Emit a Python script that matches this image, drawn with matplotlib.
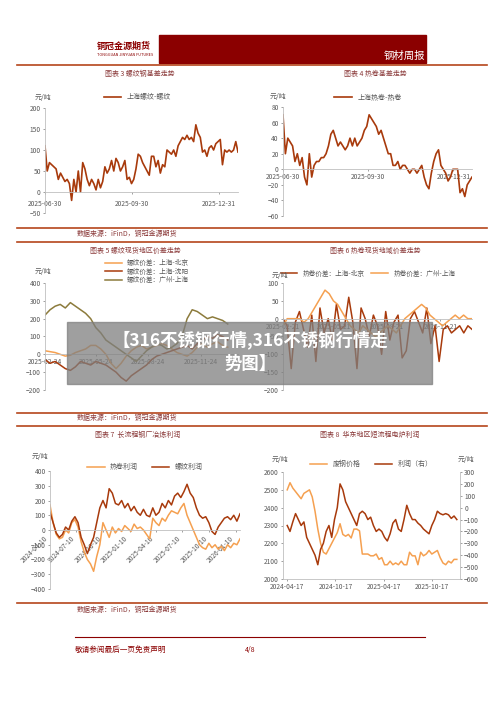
import matplotlib
matplotlib.use("Agg")
import matplotlib.pyplot as plt
import pandas as pd
import numpy as np

plt.rcParams['font.family'] = ['Noto Sans CJK SC', 'DejaVu Sans']

DARK = "#A83A0C"
LIGHT = "#F5A050"
OLIVE = "#8C7B3C"
RED = "#8B0000"
TXT = "#8B3A3A"
GRAY = "#595959"

rebar_basis = [110,50,70,65,60,55,30,45,35,25,30,20,-20,30,0,50,0,70,55,30,15,30,20,5,30,10,25,60,45,55,75,50,80,70,50,60,75,30,35,20,30,55,90,85,70,60,50,40,85,85,60,75,45,65,60,100,95,90,100,85,110,120,130,125,135,125,130,120,160,140,130,95,100,85,105,110,100,115,120,125,65,100,95,100,95,100,120,95]
hrc_basis = [70,20,40,35,30,10,20,5,15,-10,-20,20,-10,5,10,10,15,15,20,30,45,50,40,30,35,30,25,30,40,30,40,30,35,40,50,55,70,65,60,55,45,50,40,30,20,20,5,5,10,0,5,5,0,-5,0,0,-5,0,5,-10,-20,-25,-5,10,20,25,5,0,-5,-15,-10,0,0,0,-30,-25,-35,-20,-15,-10]
rb_sh_bj = [20,15,10,0,-10,-5,10,20,30,50,50,30,0,-50,-80,-50,-10,20,40,50,30,40,50,60,50,30,10,0,-10,10,40,60,40,60,70,50,40]
rb_sh_sy = [-30,-50,-40,-60,-80,-90,-70,-40,-50,-60,-40,-50,-60,-80,-100,-130,-150,-120,-100,-80,-60,-30,-10,0,10,20,30,40,50,30,60,80,100,90,110,100,80]
rb_gz_sh = [220,250,270,280,260,290,270,250,230,200,150,120,80,60,40,20,0,-20,-40,-10,20,40,60,50,30,40,60,100,200,250,240,220,200,210,200,190,170]
hc_sh_bj = [0,-20,-140,-10,20,-30,-80,10,-120,30,-40,0,-60,40,-30,-20,60,-10,-140,30,0,-50,10,-20,-100,20,-60,-10,10,-110,-90,0,20,-10,-40,30,-70,-20,-120,-30,-20,-40,-30,-20,-40,-20,-30]
hc_gz_sh = [-20,0,0,0,0,-10,0,20,40,60,80,70,50,40,20,0,-20,-30,-40,-20,-30,-40,-50,-40,-30,-20,-30,-40,-20,0,10,20,30,40,30,10,0,-10,-20,-10,0,10,0,10,0,0]
rebar_profit = [120,50,-20,-50,-30,20,0,60,90,50,-50,-100,-160,-100,-50,50,150,200,150,280,250,180,170,200,150,180,130,160,120,100,140,100,90,150,100,120,180,150,200,170,230,250,220,260,310,250,220,150,100,80,90,50,-10,-30,20,50,80,90,70,100,60,110]
hrc_profit = [170,50,-30,-60,-50,0,-20,50,70,20,-80,-150,-200,-230,-280,-180,-100,50,0,-50,20,-20,10,-10,30,10,-10,40,10,20,0,-30,-60,80,50,30,80,60,100,130,120,110,150,180,100,50,0,-50,-100,-120,-130,-90,-120,-100,-130,-110,-140,-100,-120,-90,-100,-60]
scrap = [2500,2540,2510,2490,2470,2450,2480,2490,2500,2460,2380,2280,2200,2150,2140,2170,2200,2230,2260,2310,2250,2240,2250,2230,2280,2280,2270,2140,2140,2140,2130,2130,2140,2110,2120,2080,2080,2100,2080,2090,2080,2100,2080,2080,2150,2130,2130,2080,2150,2130,2140,2160,2140,2150,2160,2120,2090,2080,2100,2090,2110,2110]
eaf_profit = [-150,-200,-120,-50,-100,-150,-120,-250,-300,-350,-400,-480,-350,-300,-200,-150,-250,-100,0,200,150,50,0,-50,-100,-150,-50,-30,-50,-100,-80,-150,-200,-180,-200,-250,-280,-220,-130,-100,-180,-200,-100,20,-50,-100,-100,-130,-150,-180,-200,-220,-150,-100,-30,-50,-60,-50,-60,-90,-70,-100]

W, H = 500, 707
fig = plt.figure(figsize=(5, 7.07), dpi=100)

def ax_px(x0, y0, x1, y1):
    return fig.add_axes([x0 / W, 1 - y1 / H, (x1 - x0) / W, (y1 - y0) / H])

def txt(x, y, s, **kw):
    kw.setdefault('fontsize', 5)
    kw.setdefault('color', TXT)
    fig.text(x / W, 1 - y / H, s, **kw)

def hline(y, x0=17, x1=487, lw=1.2, c="#B5451B"):
    fig.add_artist(plt.Line2D([x0 / W, x1 / W], [1 - y / H, 1 - y / H], lw=lw, color=c))

fig.add_artist(plt.Rectangle((159 / W, 1 - 63 / H), (426 - 159) / W, 28 / H, color=RED))
txt(97, 46, "铜冠金源期货", fontsize=6.5, color=RED, weight='bold', va='center')
txt(97, 55, "TONGGUAN JINYUAN FUTURES", fontsize=2.8, color=RED, va='center')
txt(425, 56, "钢材周报", fontsize=7.5, color='white', ha='right', va='center')
hline(65)

def style(ax, ylim, yt, zero=True):
    ax.set_ylim(*ylim)
    ax.set_yticks(yt)
    for s in ['top', 'right']:
        ax.spines[s].set_visible(False)
    ax.spines['left'].set_color('#BFBFBF')
    ax.spines['bottom'].set_color('#BFBFBF')
    ax.spines['left'].set_linewidth(0.6)
    ax.spines['bottom'].set_linewidth(0.6)
    if zero:
        ax.spines['bottom'].set_position(('data', 0))
    ax.tick_params(labelsize=4.8, colors=GRAY, length=1.5, width=0.4, pad=1.5)
    ax.patch.set_alpha(0)

def dates(a, b, vals):
    return pd.date_range(a, b, periods=len(vals))

def setx(ax, ticks, rot=0):
    ax.set_xticks(pd.to_datetime(ticks))
    ax.set_xticklabels(ticks, rotation=rot, ha='right' if rot else 'center')

# chart 3
txt(140, 74, "图表 3 螺纹钢基差走势", ha='center', va='center')
ax = ax_px(45, 108, 238, 213)
d = dates("2025-06-30", "2026-01-20", rebar_basis)
ax.plot(d, rebar_basis, color=DARK, lw=1.2, label="上海螺纹-螺纹")
style(ax, (-50, 200), [-50, 0, 50, 100, 150, 200])
ax.set_xlim(d[0], d[-1])
setx(ax, ["2025-06-30", "2025-09-30", "2025-12-31"])
ax.tick_params(axis='x', pad=4)
ax.legend(loc='upper center', bbox_to_anchor=(0.48, 1.2), frameon=False, fontsize=5, labelcolor=GRAY, handlelength=2.5)
txt(35, 100, "元/吨", color=GRAY)

# chart 4
txt(375, 74, "图表 4 热卷基差走势", ha='center', va='center')
ax = ax_px(283, 107, 472, 216)
d = dates("2025-06-30", "2026-01-20", hrc_basis)
ax.plot(d, hrc_basis, color=DARK, lw=1.2, label="上海热卷-热卷")
style(ax, (-60, 80), [-60, -40, -20, 0, 20, 40, 60, 80])
ax.set_xlim(d[0], d[-1])
setx(ax, ["2025-06-30", "2025-09-30", "2025-12-31"])
ax.legend(loc='upper center', bbox_to_anchor=(0.45, 1.18), frameon=False, fontsize=5, labelcolor=GRAY, handlelength=2.5)
txt(270, 99, "元/吨", color=GRAY)

hline(228)
txt(77, 234, "数据来源：iFinD，铜冠金源期货", va='center')
hline(242)

# chart 5
txt(135, 251, "图表 5 螺纹现货地区价差走势", ha='center', va='center')
ax = ax_px(45, 283, 238, 390)
for vals, c, lab in [(rb_sh_bj, LIGHT, "螺纹价差：上海-北京"), (rb_sh_sy, DARK, "螺纹价差：上海-沈阳"), (rb_gz_sh, OLIVE, "螺纹价差：广州-上海")]:
    ax.plot(dates("2025-02-24", "2026-01-10", vals), vals, color=c, lw=1.1, label=lab)
style(ax, (-200, 400), [-200, -100, 0, 100, 200, 300, 400])
ax.set_xlim(pd.Timestamp("2025-02-24"), pd.Timestamp("2026-01-28"))
setx(ax, ["2025-02-24", "2025-05-24", "2025-08-24", "2025-11-24"])
ax.legend(loc='upper left', bbox_to_anchor=(0.28, 1.28), frameon=False, fontsize=4.8, labelcolor=GRAY, handlelength=2.5, labelspacing=0.1)
txt(35, 274, "元/吨", color=GRAY)

# chart 6
txt(375, 251, "图表 6 热卷现货地域价差走势", ha='center', va='center')
ax = ax_px(283, 283, 472, 390)
for vals, c, lab in [(hc_sh_bj, DARK, "热卷价差：上海-北京"), (hc_gz_sh, LIGHT, "热卷价差：广州-上海")]:
    ax.plot(dates("2025-02-21", "2026-01-15", vals), vals, color=c, lw=1.1, label=lab)
style(ax, (-200, 100), [-200, -150, -100, -50, 0, 50, 100])
ax.set_xlim(pd.Timestamp("2025-02-21"), pd.Timestamp("2026-01-15"))
setx(ax, ["2025-02-21", "2025-05-21", "2025-08-21", "2025-11-21"])
ax.legend(loc='upper center', bbox_to_anchor=(0.45, 1.18), frameon=False, fontsize=4.8, labelcolor=GRAY, handlelength=2.5, ncol=2, columnspacing=1)
txt(272, 278, "元/吨", color=GRAY)

hline(413)
txt(77, 418, "数据来源：iFinD，铜冠金源期货", va='center')
hline(426)

# chart 7
txt(138, 435, "图表 7  长流程钢厂冶炼利润", ha='center', va='center')
ax = ax_px(50, 471, 240, 589)
for vals, c, lab in [(hrc_profit, LIGHT, "热卷利润"), (rebar_profit, DARK, "螺纹利润")]:
    ax.plot(dates("2024-04-10", "2026-01-25", vals), vals, color=c, lw=1.1, label=lab)
style(ax, (-400, 400), [-400, -300, -200, -100, 0, 100, 200, 300, 400])
ax.set_xlim(pd.Timestamp("2024-04-10"), pd.Timestamp("2026-01-25"))
setx(ax, ["2024-04-10", "2024-07-10", "2024-10-10", "2025-01-10", "2025-04-10", "2025-07-10", "2025-10-10", "2026-01-10"], rot=45)
ax.legend(loc='upper center', bbox_to_anchor=(0.5, 1.12), frameon=False, fontsize=5, labelcolor=GRAY, handlelength=2.5, ncol=2)
txt(32, 459, "元/吨", color=GRAY)

# chart 8
txt(370, 435, "图表 8  华东地区短流程电炉利润", ha='center', va='center')
ax = ax_px(283, 472, 460, 579)
l1, = ax.plot(dates("2024-04-17", "2026-01-20", scrap), scrap, color=LIGHT, lw=1.1)
style(ax, (2000, 2600), [2000, 2100, 2200, 2300, 2400, 2500, 2600], zero=False)
ax.set_xlim(pd.Timestamp("2024-04-01"), pd.Timestamp("2026-02-01"))
setx(ax, ["2024-04-17", "2024-10-17", "2025-04-17", "2025-10-17"])
ax2 = ax.twinx()
l2, = ax2.plot(dates("2024-04-17", "2026-01-20", eaf_profit), eaf_profit, color=DARK, lw=1.1)
ax2.set_ylim(-600, 300)
ax2.set_yticks(range(-600, 301, 100))
for s in ['top', 'left', 'bottom']:
    ax2.spines[s].set_visible(False)
ax2.spines['right'].set_color('#BFBFBF')
ax2.spines['right'].set_linewidth(0.6)
ax2.tick_params(labelsize=4.8, colors=GRAY, length=1.5, width=0.4, pad=1.5)
ax.legend([l1, l2], ["废钢价格", "利润（右）"], loc='upper center', bbox_to_anchor=(0.5, 1.17), frameon=False, fontsize=5, labelcolor=GRAY, handlelength=2.5, ncol=2)
txt(272, 462, "元/吨", color=GRAY)
txt(458, 462, "元/吨", color=GRAY)

hline(603)
txt(77, 610, "数据来源：iFinD，铜冠金源期货", va='center')

hline(637, 75, 425, lw=0.8, c=RED)
txt(75, 650, "敬请参阅最后一页免责声明", fontsize=5.5, color=RED, style='italic', va='center')
txt(250, 650, "4/8", fontsize=5, color=RED, ha='center', va='center')

fig.add_artist(plt.Rectangle((67 / W, 1 - 384 / H), (432 - 67) / W, 62 / H, color='#7F7F7F', alpha=0.75))
txt(250, 340, "【316不锈钢行情,316不锈钢行情走", fontsize=12.5, color='white', weight='bold', ha='center', va='center')
txt(250, 364, "势图】", fontsize=12.5, color='white', weight='bold', ha='center', va='center')

fig.savefig("out.png", dpi=100)
